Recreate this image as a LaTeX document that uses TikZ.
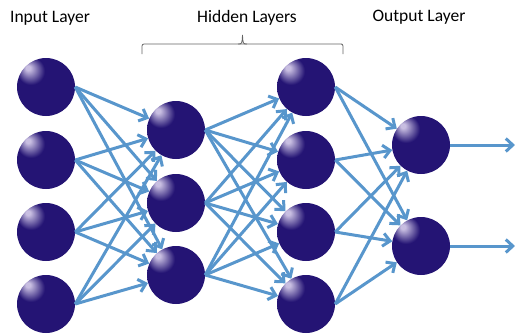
\documentclass[tikz,border=0pt]{standalone}
\usepackage{fontspec}
\setmainfont{Carlito}
\usetikzlibrary{arrows.meta}
\definecolor{ballc}{RGB}{36,20,116}
\definecolor{hlc}{RGB}{200,190,225}
\definecolor{arrc}{RGB}{88,150,204}
\definecolor{bracec}{RGB}{100,100,100}
\pgfdeclareradialshading{nball}{\pgfpoint{-16bp}{17bp}}{color(0bp)=(hlc); color(2bp)=(hlc); color(12bp)=(ballc); color(34bp)=(ballc); color(52bp)=(ballc!55!black); color(66bp)=(ballc!10!black)}
\tikzset{
  neuron/.style={circle, minimum size=58pt, inner sep=0pt, shading=nball},
  conn/.style={draw=arrc, line width=3pt, -{Straight Barb[length=7pt,width=13pt]}},
  lbl/.style={font=\fontsize{17.5}{20}\selectfont, text=black, inner sep=0pt}
}
\begin{document}
\begin{tikzpicture}[x=1pt,y=-1pt]
\useasboundingbox (0,0) rectangle (515,333);
% labels
\node[lbl] (tin) at (50,18) {Input Layer};
\node[lbl] (thid) at (247,18) {Hidden Layers};
\node[lbl] (tout) at (419,17) {Output Layer};
% brace
\draw[bracec, line width=0.8pt, rounded corners=2pt] (142,54) -- (142,44) -- (340,44) -- (343,44) -- (343,54);
\draw[bracec, line width=0.8pt] (238,44) .. controls (242,44) .. (242.5,35) .. controls (243,44) .. (247,44);
% neurons
\foreach \i/\y in {1/87,2/160,3/232,4/304} \node[neuron] (i\i) at (46,\y) {};
\foreach \i/\y in {1/130,2/203,3/275} \node[neuron] (a\i) at (176,\y) {};
\foreach \i/\y in {1/87,2/160,3/232,4/304} \node[neuron] (b\i) at (306,\y) {};
\foreach \i/\y in {1/145,2/246} \node[neuron] (o\i) at (421,\y) {};
\coordinate (e1) at (515,145);
\coordinate (e2) at (515,246);
% connections
\foreach \s in {1,2,3,4} \foreach \t in {1,2,3} \draw[conn] (i\s.east) -- (a\t);
\foreach \s in {1,2,3} \foreach \t in {1,2,3,4} \draw[conn] (a\s.east) -- (b\t);
\foreach \s in {1,2,3,4} \foreach \t in {1,2} \draw[conn] (b\s.east) -- (o\t);
\draw[conn] (o1.east) -- (e1);
\draw[conn] (o2.east) -- (e2);
\end{tikzpicture}
\end{document}
